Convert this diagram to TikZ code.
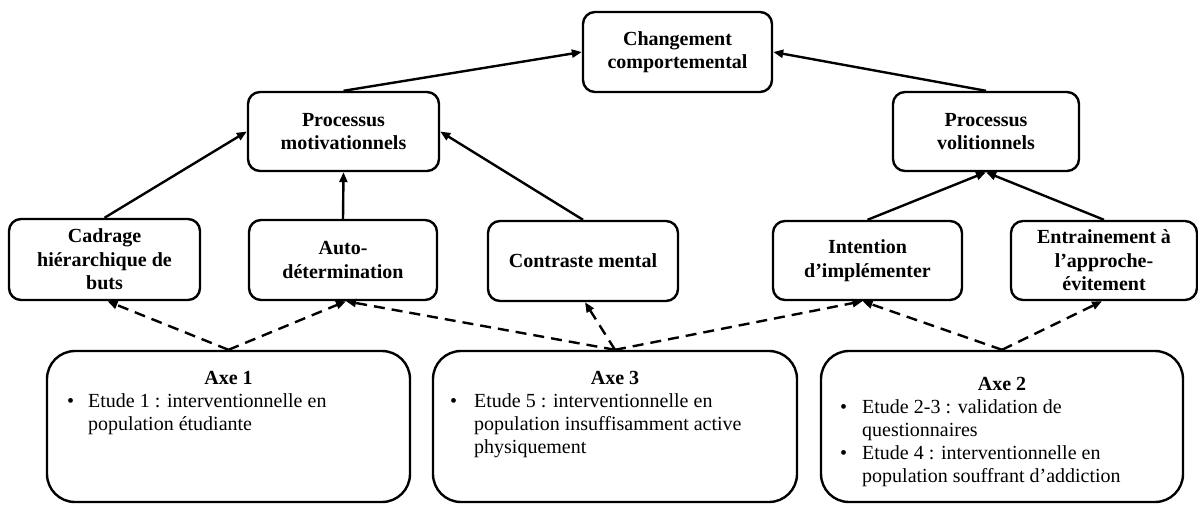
\documentclass[tikz,border=0pt]{standalone}
\usepackage{fontspec}
\setmainfont{Liberation Serif}
\usetikzlibrary{arrows.meta}
\begin{document}
\begin{tikzpicture}[x=1pt,y=-1pt,
  box/.style={draw,line width=2.4pt,rounded corners=12pt,inner sep=0pt,align=center,
    font=\fontsize{20}{23.5}\selectfont\bfseries},
  axebox/.style={draw,line width=2.4pt,rounded corners=28pt,inner sep=0pt,
    minimum height=151pt},
  title/.style={anchor=base,inner sep=0pt,font=\fontsize{20}{23}\selectfont\bfseries},
  body/.style={anchor=base west,inner sep=0pt,font=\fontsize{20}{23}\selectfont},
  arr/.style={line width=2.4pt,-{Triangle[length=10pt,width=8pt]}},
  darr/.style={line width=2.4pt,dash pattern=on 11pt off 7pt,-{Triangle[length=10pt,width=8pt]}}
]
\useasboundingbox (0,0) rectangle (1198,504);

% top rows
\node[box,minimum width=189pt,minimum height=80pt] (chang) at (677.5,52) {Changement\\comportemental};
\node[box,minimum width=191pt,minimum height=79pt] (motiv) at (343.5,131.5) {Processus\\motivationnels};
\node[box,minimum width=186pt,minimum height=79pt] (volit) at (986,131.5) {Processus\\volitionnels};

\node[box,minimum width=191pt,minimum height=81pt] (cadr) at (104.5,259.5) {Cadrage\\hiérarchique de\\buts};
\node[box,minimum width=188pt,minimum height=80pt] (auto) at (343,260) {Auto-\\détermination};
\node[box,minimum width=190pt,minimum height=80pt] (contr) at (583,261) {Contraste mental};
\node[box,minimum width=189pt,minimum height=79pt] (inten) at (867.5,260.5) {Intention\\d’implémenter};
\node[box,minimum width=186pt,minimum height=79pt] (entr) at (1104,260.5) {Entrainement à\\l’approche-\\évitement};

% bottom boxes
\node[axebox,minimum width=363pt] (axe1) at (228.5,426.5) {};
\node[axebox,minimum width=364pt] (axe3) at (615,426.5) {};
\node[axebox,minimum width=362pt] (axe2) at (1002,426.5) {};

\node[title] (a1t) at (228.5,384) {Axe 1};
\node[body] (a1b) at (67,407) {•};
\node[body] (a1l1) at (88,407) {Etude 1 : interventionnelle en};
\node[body] (a1l2) at (88,430) {population étudiante};

\node[title] (a3t) at (615,384) {Axe 3};
\node[body] (a3b) at (450,407) {•};
\node[body] (a3l1) at (474,407) {Etude 5 : interventionnelle en};
\node[body] (a3l2) at (474,430) {population insuffisamment active};
\node[body] (a3l3) at (474,453) {physiquement};

\node[title] (a2t) at (1002,390) {Axe 2};
\node[body] (a2b1) at (840,413) {•};
\node[body] (a2l1) at (862,413) {Etude 2-3 : validation de};
\node[body] (a2l2) at (862,436) {questionnaires};
\node[body] (a2b2) at (840,459) {•};
\node[body] (a2l3) at (862,459) {Etude 4 : interventionnelle en};
\node[body] (a2l4) at (862,482) {population souffrant d’addiction};

% solid arrows
\draw[arr] (cadr.north) -- (motiv.west);
\draw[arr] (auto.north) -- (motiv.south);
\draw[arr] (contr.north) -- (motiv.east);
\draw[arr] (motiv.north) -- (chang.west);
\draw[arr] (volit.north) -- (chang.east);
\draw[arr] (inten.north) -- (volit.south);
\draw[arr] (entr.north) -- (volit.south);

% dashed arrows
\draw[darr] (axe1.north) -- ([xshift=3pt]cadr.south);
\draw[darr] (axe1.north) -- ([xshift=3pt]auto.south);
\draw[darr] (axe3.north) -- ([xshift=3pt]auto.south);
\draw[darr] (axe3.north) -- ([xshift=2pt]contr.south);
\draw[darr] (axe3.north) -- ([xshift=-5pt]inten.south);
\draw[darr] (axe2.north) -- ([xshift=-5pt]inten.south);
\draw[darr] (axe2.north) -- ([xshift=-2pt]entr.south);
\end{tikzpicture}
\end{document}
